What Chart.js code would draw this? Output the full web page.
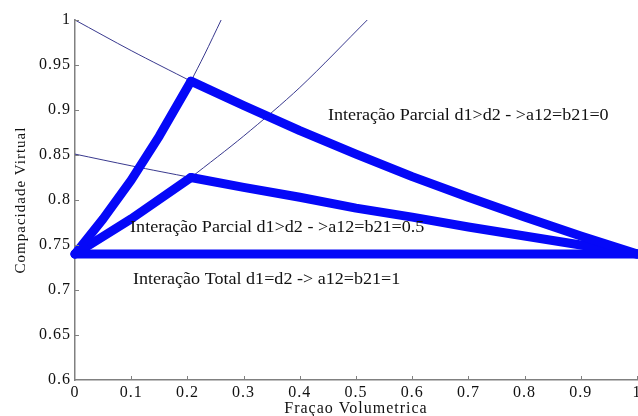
<!DOCTYPE html>
<html>
<head>
<meta charset="utf-8">
<script src="https://cdn.jsdelivr.net/npm/chart.js@4.4.1/dist/chart.umd.min.js"></script>
<style>
html,body{margin:0;padding:0;background:#fff;}
canvas{display:block;}
</style>
</head>
<body>
<canvas id="c" width="638" height="416"></canvas>
<script>
// ---- data ----
const xTickLabels = ["0","0.1","0.2","0.3","0.4","0.5","0.6","0.7","0.8","0.9","1"];
const yTickLabels = ["0.6","0.65","0.7","0.75","0.8","0.85","0.9","0.95","1"];

// Interação Parcial a12=b21=0
const p0LeftX  = [0, 0.05, 0.10, 0.15, 0.2063];
const p0LeftY  = [0.74, 0.779, 0.822, 0.871, 0.932];
const p0RightX = [0.2063, 0.3, 0.4, 0.5, 0.6, 0.7, 0.8, 0.9, 1.0];
const p0RightY = [0.932, 0.905, 0.877, 0.851, 0.826, 0.803, 0.781, 0.760, 0.74];
const p0ThinUpX = [0.2063, 0.23, 0.26];
const p0ThinUpY = [0.932, 0.961, 1.0];
const p0ThinLeftX = [0, 0.1, 0.2063];
const p0ThinLeftY = [1.0, 0.966, 0.932];

// Interação Parcial a12=b21=0.5
const p5LeftX  = [0, 0.1, 0.2063];
const p5LeftY  = [0.74, 0.779, 0.825];
const p5RightX = [0.2063, 0.3, 0.4, 0.5, 0.6, 0.7, 0.8, 0.9, 1.0];
const p5RightY = [0.825, 0.814, 0.803, 0.791, 0.781, 0.770, 0.760, 0.750, 0.74];
const p5ThinUpX = [0.2063, 0.3, 0.4, 0.52];
const p5ThinUpY = [0.825, 0.871, 0.925, 1.0];
const p5ThinLeftX = [0, 0.1, 0.2063];
const p5ThinLeftY = [0.851, 0.838, 0.825];

// Interação Total a12=b21=1
const totalX = [0, 1];
const totalY = [0.74, 0.74];

const labelTexts = [
  "Interação Parcial d1>d2 - >a12=b21=0",
  "Interação Parcial d1>d2 - >a12=b21=0.5",
  "Interação Total d1=d2 -> a12=b21=1"
];

// ---- helpers ----
const pts = (xs, ys) => xs.map((x, i) => ({x: x, y: ys[i]}));
const THICK = '#0508f8';
const THIN = 'rgba(35,35,130,0.9)';
function thick(xs, ys){
  return {data: pts(xs, ys), showLine: true, borderColor: THICK, backgroundColor: THICK,
    borderWidth: 9, pointRadius: 0, borderCapStyle: 'round', borderJoinStyle: 'round',
    tension: 0, clip: false, order: 1};
}
function thin(xs, ys){
  return {data: pts(xs, ys), showLine: true, borderColor: THIN, backgroundColor: THIN,
    borderWidth: 1, pointRadius: 0, tension: 0.3, clip: false, order: 2};
}

const FONT = "'Liberation Serif', 'Times New Roman', serif";

const annotPlugin = {
  id: 'annot',
  beforeDraw(chart) {
    chart.ctx.letterSpacing = '1px';
  },
  afterDatasetsDraw(chart) {
    const {ctx, scales: {x, y}} = chart;
    ctx.save();
    // inward tick marks
    ctx.strokeStyle = '#808080';
    ctx.lineWidth = 1;
    const L = 4;
    for (let i = 1; i < xTickLabels.length; i++) {
      const px = Math.round(x.getPixelForValue(i * 0.1)) + 0.5;
      ctx.beginPath();
      ctx.moveTo(px, y.bottom);
      ctx.lineTo(px, y.bottom - L);
      ctx.stroke();
    }
    for (let i = 1; i < yTickLabels.length; i++) {
      const py = Math.round(y.getPixelForValue(0.6 + i * 0.05)) + 0.5;
      ctx.beginPath();
      ctx.moveTo(x.left, py);
      ctx.lineTo(x.left + L, py);
      ctx.stroke();
    }
    // text annotations (slightly widened like the original)
    ctx.letterSpacing = '0px';
    ctx.fillStyle = '#111';
    ctx.font = "16px " + FONT;
    ctx.textBaseline = 'middle';
    ctx.textAlign = 'left';
    const pos = [[0.450, 0.894], [0.098, 0.769], [0.103, 0.711]];
    labelTexts.forEach((t, i) => {
      ctx.save();
      ctx.translate(x.getPixelForValue(pos[i][0]), y.getPixelForValue(pos[i][1]));
      ctx.scale(1.13, 1);
      ctx.fillText(t, 0, 0);
      ctx.restore();
    });
    ctx.restore();
  }
};

new Chart(document.getElementById('c'), {
  type: 'scatter',
  data: {
    datasets: [
      thick(totalX, totalY),
      thick(p0LeftX, p0LeftY),
      thick(p0RightX, p0RightY),
      thick(p5LeftX, p5LeftY),
      thick(p5RightX, p5RightY),
      thin(p0ThinUpX, p0ThinUpY),
      thin(p0ThinLeftX, p0ThinLeftY),
      thin(p5ThinUpX, p5ThinUpY),
      thin(p5ThinLeftX, p5ThinLeftY)
    ]
  },
  options: {
    responsive: false,
    animation: false,
    layout: {padding: {top: 20, right: 1, left: 0, bottom: 0}},
    plugins: {legend: {display: false}, tooltip: {enabled: false}},
    scales: {
      x: {
        type: 'linear', min: 0, max: 1,
        afterFit(s){ s.height = 36; s.paddingLeft = 0; s.paddingRight = 0; },
        ticks: {stepSize: 0.1, padding: 3, color: '#111', maxRotation: 0,
          font: {family: FONT, size: 16},
          callback: (v) => xTickLabels[Math.round(v * 10)]},
        grid: {display: true, drawOnChartArea: false, drawTicks: false},
        border: {display: true, color: '#808080', width: 1.5},
        title: {display: true, text: 'Fraçao Volumetrica', color: '#111',
          font: {family: FONT, size: 16}, padding: {top: 0, bottom: -2}}
      },
      y: {
        type: 'linear', min: 0.6, max: 1,
        afterFit(s){ s.width = 75; s.paddingTop = 0; s.paddingBottom = 0; },
        ticks: {stepSize: 0.05, padding: 4, color: '#111',
          font: {family: FONT, size: 16},
          callback: (v) => yTickLabels[Math.round((v - 0.6) * 20)]},
        grid: {display: true, drawOnChartArea: false, drawTicks: false},
        border: {display: true, color: '#808080', width: 1.5},
        title: {display: true, text: 'Compacidade Virtual', color: '#111',
          font: {family: FONT, size: 15}, padding: {top: 12, bottom: 0}}
      }
    }
  },
  plugins: [annotPlugin]
});
</script>
</body>
</html>
